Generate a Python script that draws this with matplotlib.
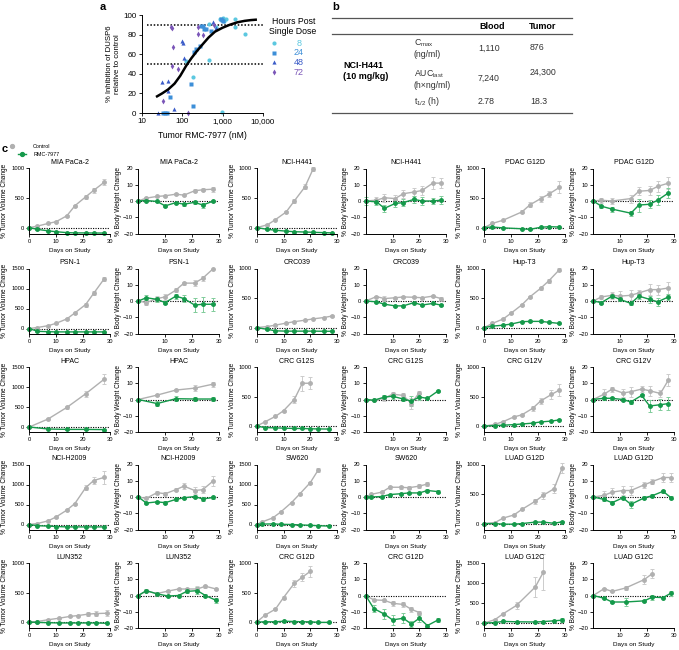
import numpy as np
import matplotlib
matplotlib.use('Agg')
import matplotlib.pyplot as plt
from matplotlib.ticker import NullLocator

plt.rcParams['font.family'] = ['Liberation Sans', 'DejaVu Sans']
plt.rcParams['mathtext.default'] = 'regular'

nan = np.nan
W, H = 679, 650

# ---- panel a: DUSP6 inhibition vs tumor concentration ----
a_x8 = [185, 125, 450, 960, 3600, 2050, 2050, 1250, 1100, 460, 700, 880, 1050]
a_y8 = [37, 53, 54, 1, 81, 88, 96, 96, 94, 91, 88, 96, 97]
a_x24 = [34, 38, 42, 49, 167, 184, 200, 215, 270, 300, 320, 350, 400, 520, 900, 950, 1000]
a_y24 = [0, 0, 0, 16, 30, 7, 62, 65, 68, 89, 89, 86, 86, 84, 96, 95, 94]
a_x48 = [25, 31, 45, 46, 62, 100, 108, 112, 570, 700]
a_y48 = [0, 32, 33, 22, 4, 73, 71, 56, 93, 87]
a_x72 = [34, 52, 56, 60, 55, 80, 140, 245, 250, 330, 600]
a_y72 = [12, 88, 87, 67, 48, 45, 0, 88, 81, 80, 90]
a_curve_x = [24, 32, 45, 65, 90, 125, 170, 230, 320, 450, 650, 1000, 1500, 2300, 3500, 5000, 6600]
a_curve_y = [17, 20, 24, 30, 38, 48, 56, 63, 70, 77, 83, 87, 90, 92.5, 94, 94.8, 95.2]
a_hours = ['8', '24', '48', '72']

# ---- panel b: PK table ----
pk_params = [r'C$_{max}$' + '\n(ng/ml)', r'AUC$_{last}$' + '\n(h×ng/ml)', r't$_{1/2}$ (h)']
pk_blood = ['1,110', '7,240', '2.78']
pk_tumor = ['876', '24,300', '18.3']

# ---- panel c: xenograft studies ----
mia_days = [0, 3, 7, 10, 14, 17, 21, 24, 28]
mia_tv_c = [0, 25, 70, 100, 200, 370, 520, 630, 770]
mia_tv_ce = [0, 8, 10, 10, 15, 20, 35, 45, 50]
mia_tv_t = [0, -30, -55, -70, -85, -90, -90, -92, -92]
mia_tv_te = [0, 5, 5, 5, 5, 5, 5, 5, 5]
mia_bw_c = [0, 1.8, 2.8, 3.2, 4.2, 3.6, 6.3, 6.9, 7.3]
mia_bw_ce = [0, 0.5, 0.5, 0.5, 0.6, 0.6, 0.8, 0.8, 1.5]
mia_bw_t = [0, 0.3, -0.3, -3, -1, -2, -0.8, -2.5, 0]
mia_bw_te = [0, 0.5, 0.6, 0.8, 0.6, 0.8, 0.8, 1.5, 0.8]

h441_days = [0, 4, 7, 11, 14, 18, 21, 25, 28]
h441_tv_c = [0, 47, 135, 265, 450, 690, 990, nan, nan]
h441_tv_ce = [0, 10, 15, 20, 30, 45, 35, 0, 0]
h441_tv_t = [0, -30, -45, -60, -70, -75, -80, -85, -90]
h441_tv_te = [0, 5, 5, 5, 5, 5, 5, 5, 5]
h441_bw_c = [0, 0.5, 2, 1.5, 4.5, 5.5, 6.5, 11, 11]
h441_bw_ce = [0, 2, 2.5, 2.5, 2.5, 2.5, 2.5, 3.5, 3]
h441_bw_t = [0, -0.5, -4.5, -1.5, -1, 1, 0, 0, 0.5]
h441_bw_te = [2.5, 2, 2, 2, 2, 2, 2.5, 2, 2.5]

pdac_days = [0, 3, 7, 14, 17, 21, 24, 28]
pdac_tv_c = [0, 70, 125, 265, 385, 490, 565, 680]
pdac_tv_ce = [0, 10, 10, 25, 40, 50, 55, 100]
pdac_tv_t = [0, 10, -5, -20, -30, 5, 15, 10]
pdac_tv_te = [0, 5, 5, 5, 10, 5, 5, 5]
pdac_bw_c = [0, 0.5, 0, 1.5, 6, 6.5, 9, 11]
pdac_bw_ce = [0, 1.5, 2, 2.5, 2.5, 2.5, 3.5, 3.5]
pdac_bw_t = [0, -3.2, -5, -7.5, -2.5, -2, 0.5, 5]
pdac_bw_te = [0, 0.8, 1.5, 1.5, 4, 2.5, 3, 3]

psn_days = [0, 3, 7, 10, 14, 17, 21, 24, 28]
psn_tv_c = [0, 25, 70, 130, 240, 390, 600, 880, 1250]
psn_tv_ce = [0, 8, 10, 15, 20, 30, 50, 50, 50]
psn_tv_t = [0, -70, -80, -85, -85, -85, -85, -85, -85]
psn_tv_te = [0, 5, 5, 5, 5, 5, 5, 5, 5]
psn_bw_c = [0, -1, 1.5, 2.5, 6.7, 11, 11, 14, 20]
psn_bw_ce = [0, 1.5, 1.5, 2, 1, 1, 2, 1.5, 0]
psn_bw_t = [0, 2, 1, -1, 3, 1.5, -2.5, -2, -2]
psn_bw_te = [0, 1.5, 1.5, 1, 1.5, 2, 4.5, 4.5, 4]

crc039_days = [0, 4, 7, 11, 14, 18, 21, 25, 28]
crc039_tv_c = [0, 18, 42, 76, 100, 125, 147, 170, 195]
crc039_tv_ce = [0, 5, 8, 8, 10, 10, 10, 10, 12]
crc039_tv_t = [0, -30, -55, -60, -60, -60, -60, -62, -62]
crc039_tv_te = [0, 4, 4, 4, 4, 4, 4, 4, 4]
crc039_bw_c = [0, 2.7, 1.5, 2, 2.5, 2.3, 2, 3, 1.5]
crc039_bw_ce = [0, 0.5, 1.5, 0.5, 0.5, 0.5, 0.5, 0.5, 0.8]
crc039_bw_t = [0, -0.5, -2, -3, -3, -1, -2.5, -1.5, -2.5]
crc039_bw_te = [0, 0.5, 0.5, 0.5, 0.5, 0.5, 0.5, 0.5, 0.5]

hup_days = [0, 3, 7, 10, 14, 17, 21, 24, 28]
hup_tv_c = [0, 70, 145, 245, 385, 520, 665, 790, 980]
hup_tv_ce = [0, 8, 10, 12, 15, 20, 30, 35, 30]
hup_tv_t = [0, 25, 40, 60, 100, 105, 105, 90, 70]
hup_tv_te = [0, 5, 5, 8, 8, 8, 8, 8, 8]
hup_bw_c = [0, 2.5, 3.5, 3, 3.5, 5, 7, 7, 8]
hup_bw_ce = [0, 1, 2, 3, 3, 2, 3.5, 3, 4]
hup_bw_t = [0, -1, 3, 1, -1.5, 3, 1, -0.5, 2.5]
hup_bw_te = [0, 0.8, 1, 1, 1, 1.5, 2, 2.5, 2]

hpac_days = [0, 7, 14, 21, 28]
hpac_tv_c = [0, 200, 490, 830, 1200]
hpac_tv_ce = [0, 15, 30, 80, 130]
hpac_tv_t = [0, -50, -60, -60, -65]
hpac_tv_te = [0, 5, 5, 5, 5]
hpac_bw_c = [0, 2.7, 5.8, 7, 9.5]
hpac_bw_ce = [0, 0.6, 0.8, 2, 1.5]
hpac_bw_t = [0, -2.5, 0.5, 0.3, 0.3]
hpac_bw_te = [0, 1.5, 1.5, 1, 1]

g12s_days = [0, 3, 7, 10, 14, 17, 20, 23, 27]
g12s_tv_c = [0, 70, 165, 260, 450, 725, 725, nan, nan]
g12s_tv_ce = [0, 8, 10, 20, 60, 130, 100, 0, 0]
g12s_tv_t = [0, -25, -30, -35, -40, -40, -45, -48, -50]
g12s_tv_te = [0, 5, 5, 5, 5, 5, 5, 5, 5]
g12s_bw_c = [0, -0.5, 0.8, 3.3, 2.5, -2.5, 4.3, nan, nan]
g12s_bw_ce = [0, 0.5, 2, 1.5, 1.5, 3.5, 1, 0, 0]
g12s_bw_t = [0, -0.5, 1.5, 2, 0.3, -1, 1.5, 0.7, 5.3]
g12s_bw_te = [0, 0.5, 1, 1.5, 1.5, 3, 2, 0.5, 0.5]

g12v_days = [0, 4, 7, 11, 14, 18, 21, 25, 28]
g12v_tv_c = [0, 30, 75, 155, 190, 300, 425, 535, 610]
g12v_tv_ce = [0, 8, 10, 12, 15, 40, 50, 80, 100]
g12v_tv_t = [0, 10, 15, 25, 35, 50, 70, 85, 105]
g12v_tv_te = [0, 4, 5, 5, 5, 5, 5, 5, 8]
g12v_bw_c = [0, 3.3, 6.4, 4, 4.8, 6.4, 5.4, 3.7, 12]
g12v_bw_ce = [0, 3, 1.5, 2.5, 3, 2, 3, 2, 3.5]
g12v_bw_t = [0, 0.8, 0.7, 0, -1.5, 2.5, -4, -3.2, -2.5]
g12v_bw_te = [0, 0.8, 0.8, 1, 1.5, 1, 3.5, 3.5, 4]

h2009_days = [0, 3, 7, 10, 14, 17, 21, 24, 28]
h2009_tv_c = [0, 25, 90, 190, 360, 525, 920, 1100, 1180]
h2009_tv_ce = [0, 8, 10, 15, 20, 25, 60, 80, 170]
h2009_tv_t = [0, -30, -40, -50, -60, -60, -60, -60, -60]
h2009_tv_te = [0, 5, 5, 5, 5, 5, 5, 5, 5]
h2009_bw_c = [0, -0.8, 2.7, 2, 4.5, 6.7, 4, 4.5, 10]
h2009_bw_ce = [0, 0.5, 0.8, 0.8, 1, 2, 2, 2, 3]
h2009_bw_t = [0, -3.7, -3, -3.5, -1.5, -0.5, 0.3, -1.2, -0.3]
h2009_bw_te = [0, 0.8, 0.8, 0.8, 0.8, 0.8, 0.8, 1, 0.8]

sw620_days = [0, 2, 6, 9, 13, 16, 20, 23, 27]
sw620_tv_c = [0, 65, 165, 315, 550, 760, 1050, 1370, nan]
sw620_tv_ce = [0, 10, 10, 15, 20, 20, 25, 50, 0]
sw620_tv_t = [0, 10, 15, 5, 0, -10, -20, -30, -40]
sw620_tv_te = [0, 5, 5, 5, 5, 5, 5, 5, 5]
sw620_bw_c = [0, 1.6, 3, 6, 6, 5.7, 6.7, 8, nan]
sw620_bw_ce = [0, 0.5, 0.5, 1, 0.8, 0.8, 1, 1.5, 0]
sw620_bw_t = [0, 0, 0.3, 1.5, 2, 2.5, 2.5, 4, 3.3]
sw620_bw_te = [0, 0.5, 0.5, 0.5, 0.5, 0.5, 0.5, 0.8, 0.8]

g12d_luad_days = [0, 4, 7, 11, 14, 19, 22, 26, 29]
g12d_luad_tv_c = [0, 17, 93, 145, 240, 378, 480, 590, 940]
g12d_luad_tv_ce = [0, 8, 10, 12, 15, 40, 60, 80, 80]
g12d_luad_tv_t = [0, 0, -10, -10, 0, 25, 25, 5, 30]
g12d_luad_tv_te = [0, 5, 5, 5, 5, 8, 8, 8, 8]
g12d_luad_bw_c = [0, 1, 3, 4, 4, 7.5, 9.5, 12, 12]
g12d_luad_bw_ce = [0, 3, 2.5, 2.5, 2.5, 2, 1.5, 2.5, 3]
g12d_luad_bw_t = [0, -1.5, -3.5, -0.5, -4.5, -0.5, 0.8, 3.5, -0.5]
g12d_luad_bw_te = [0, 1, 1, 1, 2, 1, 0.8, 0.8, 1]

lun_days = [0, 3, 7, 11, 15, 18, 22, 25, 29]
lun_tv_c = [0, 10, 40, 65, 95, 110, 135, 145, 150]
lun_tv_ce = [0, 8, 10, 10, 12, 15, 40, 40, 50]
lun_tv_t = [0, -5, -10, -15, -15, -15, -15, -15, -20]
lun_tv_te = [0, 3, 3, 3, 3, 3, 3, 3, 3]
lun_bw_c = [0, 2.7, 1.2, 2.7, 4, 4, 4, 5.7, 4]
lun_bw_ce = [0, 0.8, 0.8, 0.8, 0.8, 0.8, 2, 0.8, 0.8]
lun_bw_t = [0, 3, 1, -0.3, 0, 2.5, 3, 0, -3]
lun_bw_te = [0, 1, 0.8, 0.5, 0.5, 0.8, 2, 0.8, 1.5]

g12d_crc_days = [0, 3, 7, 10, 14, 17, 20, 23, 27]
g12d_crc_tv_c = [0, 115, 220, 415, 655, 760, 860, nan, nan]
g12d_crc_tv_ce = [0, 10, 15, 20, 60, 70, 90, 0, 0]
g12d_crc_tv_t = [0, 5, 5, 15, 10, 5, 5, -5, -5]
g12d_crc_tv_te = [0, 5, 5, 5, 5, 5, 5, 5, 5]
g12d_crc_bw_c = [0, -2.7, -3, -4.8, -5.5, -8.5, -10.5, nan, nan]
g12d_crc_bw_ce = [0, 0.5, 0.8, 1.5, 1.5, 1.5, 0.8, 0, 0]
g12d_crc_bw_t = [0, -8, -11.5, -15, -14, -17.5, -14, -18.5, -15]
g12d_crc_bw_te = [0, 2, 3, 3, 3, 2, 2, 0.8, 1]

g12c_days = [0, 4, 7, 12, 19, 22, 26, 29]
g12c_tv_c = [0, 85, 230, 440, 900, 1270, nan, nan]
g12c_tv_ce = [0, 15, 20, 80, 250, 450, 0, 0]
g12c_tv_t = [0, 10, 40, 30, 25, 35, 55, 70]
g12c_tv_te = [0, 5, 5, 5, 5, 5, 15, 50]
g12c_bw_c = [0, 4.2, 2.5, 4.6, 9.8, 13.5, nan, nan]
g12c_bw_ce = [0, 0.5, 0.5, 1, 3, 3, 0, 0]
g12c_bw_t = [0, -1.7, -4, -4, -3.3, -1, -1.3, 1.5]
g12c_bw_te = [0, 0.5, 0.8, 2.5, 0.5, 1.5, 0.5, 1.5]

models = [
    ('MIA PaCa-2', mia_days, mia_tv_c, mia_tv_ce, mia_tv_t, mia_tv_te, mia_bw_c, mia_bw_ce, mia_bw_t, mia_bw_te, 1000),
    ('NCI-H441', h441_days, h441_tv_c, h441_tv_ce, h441_tv_t, h441_tv_te, h441_bw_c, h441_bw_ce, h441_bw_t, h441_bw_te, 1000),
    ('PDAC G12D', pdac_days, pdac_tv_c, pdac_tv_ce, pdac_tv_t, pdac_tv_te, pdac_bw_c, pdac_bw_ce, pdac_bw_t, pdac_bw_te, 1000),
    ('PSN-1', psn_days, psn_tv_c, psn_tv_ce, psn_tv_t, psn_tv_te, psn_bw_c, psn_bw_ce, psn_bw_t, psn_bw_te, 1500),
    ('CRC039', crc039_days, crc039_tv_c, crc039_tv_ce, crc039_tv_t, crc039_tv_te, crc039_bw_c, crc039_bw_ce, crc039_bw_t, crc039_bw_te, 1000),
    ('Hup-T3', hup_days, hup_tv_c, hup_tv_ce, hup_tv_t, hup_tv_te, hup_bw_c, hup_bw_ce, hup_bw_t, hup_bw_te, 1000),
    ('HPAC', hpac_days, hpac_tv_c, hpac_tv_ce, hpac_tv_t, hpac_tv_te, hpac_bw_c, hpac_bw_ce, hpac_bw_t, hpac_bw_te, 1500),
    ('CRC G12S', g12s_days, g12s_tv_c, g12s_tv_ce, g12s_tv_t, g12s_tv_te, g12s_bw_c, g12s_bw_ce, g12s_bw_t, g12s_bw_te, 1000),
    ('CRC G12V', g12v_days, g12v_tv_c, g12v_tv_ce, g12v_tv_t, g12v_tv_te, g12v_bw_c, g12v_bw_ce, g12v_bw_t, g12v_bw_te, 1000),
    ('NCI-H2009', h2009_days, h2009_tv_c, h2009_tv_ce, h2009_tv_t, h2009_tv_te, h2009_bw_c, h2009_bw_ce, h2009_bw_t, h2009_bw_te, 1500),
    ('SW620', sw620_days, sw620_tv_c, sw620_tv_ce, sw620_tv_t, sw620_tv_te, sw620_bw_c, sw620_bw_ce, sw620_bw_t, sw620_bw_te, 1500),
    ('LUAD G12D', g12d_luad_days, g12d_luad_tv_c, g12d_luad_tv_ce, g12d_luad_tv_t, g12d_luad_tv_te, g12d_luad_bw_c, g12d_luad_bw_ce, g12d_luad_bw_t, g12d_luad_bw_te, 1000),
    ('LUN352', lun_days, lun_tv_c, lun_tv_ce, lun_tv_t, lun_tv_te, lun_bw_c, lun_bw_ce, lun_bw_t, lun_bw_te, 1000),
    ('CRC G12D', g12d_crc_days, g12d_crc_tv_c, g12d_crc_tv_ce, g12d_crc_tv_t, g12d_crc_tv_te, g12d_crc_bw_c, g12d_crc_bw_ce, g12d_crc_bw_t, g12d_crc_bw_te, 1000),
    ('LUAD G12C', g12c_days, g12c_tv_c, g12c_tv_ce, g12c_tv_t, g12c_tv_te, g12c_bw_c, g12c_bw_ce, g12c_bw_t, g12c_bw_te, 1500),
]

GRAY = '#b0b0b0'
GRAY_ERR = '#cccccc'
GREEN = '#14994a'
GREEN_ERR = '#80cc9a'
HOUR_COLORS = ['#5cc8e0', '#3d8fd8', '#3b5cc8', '#7b56b8']
HOUR_MARKERS = ['o', 's', '^', 'd']

fig = plt.figure(figsize=(W / 100, H / 100), dpi=100)
overlay = fig.add_axes([0, 0, 1, 1])
overlay.set_xlim(0, W)
overlay.set_ylim(H, 0)
overlay.axis('off')


def px_axes(x0, y0, x1, y1):
    return fig.add_axes([x0 / W, 1 - y1 / H, (x1 - x0) / W, (y1 - y0) / H])


def clean(ax, size=4.2):
    for s in ['top', 'right']:
        ax.spines[s].set_visible(False)
    for s in ['left', 'bottom']:
        ax.spines[s].set_linewidth(0.7)
    ax.tick_params(labelsize=size, length=2.2, width=0.6, pad=1.5)


# ---- a ----
ax = px_axes(141.7, 15, 263, 113)
ax.set_xscale('log')
ax.set_xlim(10, 10000)
ax.set_ylim(0, 100)
ax.axhline(90, xmin=0.04, color='k', ls=(0, (1, 1.2)), lw=1.1)
ax.axhline(50, xmin=0.04, color='k', ls=(0, (1, 1.2)), lw=1.1)
for xs, ys, mk, col in zip([a_x8, a_x24, a_x48, a_x72], [a_y8, a_y24, a_y48, a_y72],
                           HOUR_MARKERS, HOUR_COLORS):
    ax.plot(xs, ys, ls='none', marker=mk, ms=3, color=col, mec='none', clip_on=False)
ax.plot(a_curve_x, a_curve_y, color='k', lw=1.8)
ax.set_xticks([10, 100, 1000, 10000])
ax.set_xticklabels(['10', '100', '1,000', '10,000'])
ax.xaxis.set_minor_locator(NullLocator())
ax.set_yticks(range(0, 101, 20))
clean(ax, 5.8)
ax.set_xlabel('Tumor RMC-7977 (nM)', fontsize=6.2, labelpad=4.5)
ax.set_ylabel('% Inhibition of DUSP6\nrelative to control', fontsize=5.6, labelpad=2, linespacing=1.05)

overlay.text(294, 21, 'Hours Post', fontsize=6.3, ha='center', va='center')
overlay.text(293, 31, 'Single Dose', fontsize=6.3, ha='center', va='center')
for i, (lab, mk, col) in enumerate(zip(a_hours, HOUR_MARKERS, HOUR_COLORS)):
    yy = 43 + i * 9.7
    overlay.plot([274], [yy], marker=mk, ms=3, color=col, mec='none')
    overlay.text(299, yy, lab, fontsize=6.5, color=col, ha='center', va='center')

overlay.text(100, 7, 'a', fontsize=8, fontweight='bold', va='center')
overlay.text(332, 7, 'b', fontsize=8, fontweight='bold', va='center')
overlay.text(2, 149, 'c', fontsize=8, fontweight='bold', va='center')

# ---- b ----
for yy in [17.5, 33.5, 112.5]:
    overlay.plot([332, 572], [yy, yy], color='#555555', lw=0.9)
overlay.text(492, 26.5, 'Blood', fontsize=6.5, fontweight='bold', ha='center', va='center')
overlay.text(543, 26.5, 'Tumor', fontsize=6.5, fontweight='bold', ha='center', va='center')
overlay.text(343, 71, 'NCI-H441\n(10 mg/kg)', fontsize=6.5, fontweight='bold', va='center',
             linespacing=1.3)
for i, (p, b, t) in enumerate(zip(pk_params, pk_blood, pk_tumor)):
    yy = [48, 79, 102][i]
    overlay.text(414, yy, p, fontsize=6.3, va='center', color='#333333', linespacing=1.1)
    overlay.text(478, [48, 78, 102][i], b, fontsize=6.3, va='center', color='#333333')
    overlay.text(530, [48, 72, 102][i], t, fontsize=6.3, va='center', color='#333333')

# ---- c legend ----
overlay.plot([12], [146], color=GRAY, marker='o', ms=2.8)
overlay.plot([18, 26], [154, 154], color=GREEN, lw=1)
overlay.plot([22], [154], color=GREEN, marker='o', ms=2.8)
overlay.text(33, 146, 'Control', fontsize=3.9, va='center')
overlay.text(33, 154.5, 'RMC-7977', fontsize=3.9, va='center')


def series(ax, days, vals, errs, color, ecolor):
    d = np.array(days, float)
    v = np.array(vals, float)
    e = np.array(errs, float)
    m = ~np.isnan(v)
    cont = ax.errorbar(d[m], v[m], yerr=e[m], fmt='-o', color=color, ecolor=ecolor,
                       ms=2.5, mec=color, lw=1.0, elinewidth=0.7, capsize=1.5, capthick=0.7)
    for art in cont.get_children():
        art.set_clip_on(False)


col_x = [29.3, 256.7, 484.3]
row_y = [168.5, 268.5, 367, 464.5, 563]
for i, (name, days, tvc, tvce, tvt, tvte, bwc, bwce, bwt, bwte, ymax) in enumerate(models):
    r, c = divmod(i, 3)
    x0, y0 = col_x[c], row_y[r]

    ax = px_axes(x0, y0, x0 + 80.5, y0 + 65)
    ax.axhline(0, color='k', ls=(0, (1, 1.2)), lw=0.8, zorder=1)
    series(ax, days, tvc, tvce, GRAY, GRAY_ERR)
    series(ax, days, tvt, tvte, GREEN, GREEN_ERR)
    ax.set_xlim(0, 30)
    ax.set_ylim(-100 if ymax == 1000 else -125, ymax)
    ax.set_xticks([0, 10, 20, 30])
    ax.set_yticks(list(range(0, ymax + 1, 500)))
    clean(ax)
    ax.set_title(name, fontsize=5, pad=3)
    ax.set_xlabel('Days on Study', fontsize=4.6, labelpad=3)
    ax.set_ylabel('% Tumor Volume Change', fontsize=4.7, labelpad=2)

    ax = px_axes(x0 + 109, y0, x0 + 189.5, y0 + 65)
    ax.axhline(0, color='k', ls=(0, (1, 1.2)), lw=0.8, zorder=1)
    series(ax, days, bwc, bwce, GRAY, GRAY_ERR)
    series(ax, days, bwt, bwte, GREEN, GREEN_ERR)
    ax.set_xlim(0, 30)
    ax.set_ylim(-20, 20)
    ax.set_xticks([10, 20, 30])
    ax.set_yticks([-20, -10, 0, 10, 20])
    clean(ax)
    ax.set_title(name, fontsize=5, pad=3)
    ax.set_xlabel('Days on Study', fontsize=4.6, labelpad=3)
    ax.set_ylabel('% Body Weight Change', fontsize=4.7, labelpad=1)

fig.savefig('out.png', dpi=100)
